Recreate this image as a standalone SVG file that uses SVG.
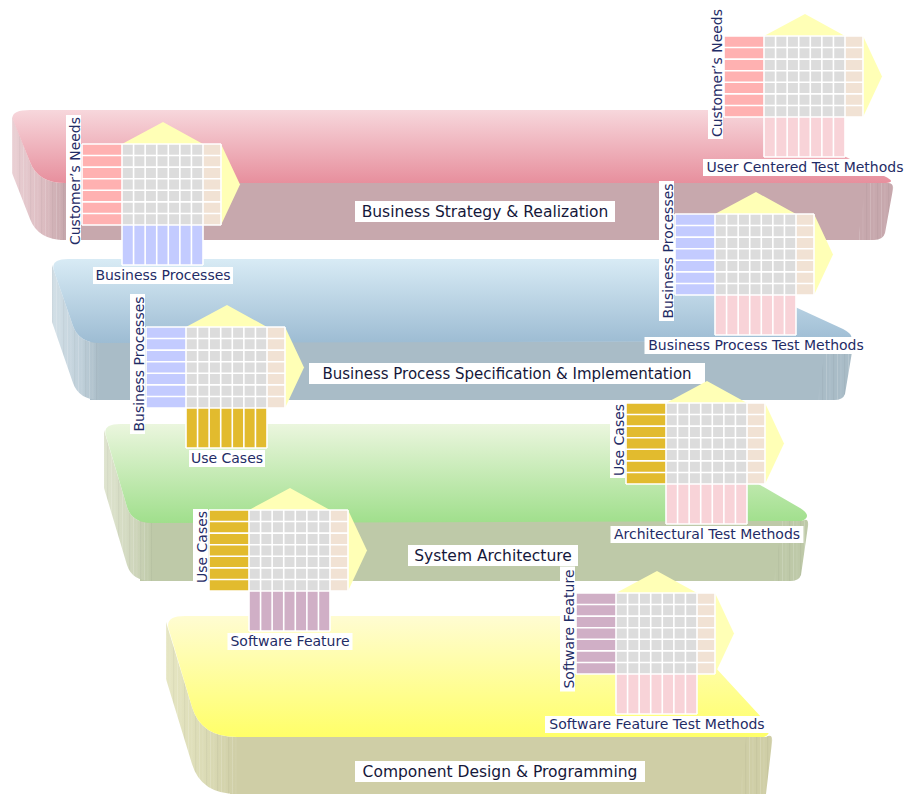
<svg xmlns="http://www.w3.org/2000/svg" xmlns:xlink="http://www.w3.org/1999/xlink" width="905" height="794" viewBox="0 0 905 794">
  <defs>
    <style>
      .roof{fill:#ffffb6}
      .grid{fill:#dcdcdc}
      .beige{fill:#f1e2d4}
      .lines{fill:none;stroke:#ffffff;stroke-width:1.6}
      .c-red{fill:#ffb1b1}
      .c-blue{fill:#c3cbff}
      .c-pink{fill:#f8d3d8}
      .c-gold{fill:#e2bb2e}
      .c-plum{fill:#d0afc6}
      .lbl-bg{fill:#ffffff}
      .lbl{font-family:"DejaVu Sans",Verdana,sans-serif;font-size:14px;fill:#1f2c66}
      .tier{font-family:"DejaVu Sans",Verdana,sans-serif;font-size:15.5px;fill:#15183a}
      .grain{fill:url(#grain)}
    </style>

    <!-- top faces: vertical gradients -->
    <linearGradient id="top-red" x1="0" y1="0" x2="0" y2="1">
      <stop offset="0" stop-color="#f7d7dc"/><stop offset="1" stop-color="#e78f9d"/>
    </linearGradient>
    <linearGradient id="top-blue" x1="0" y1="0" x2="0" y2="1">
      <stop offset="0" stop-color="#d8ebf5"/><stop offset="1" stop-color="#9dbcd3"/>
    </linearGradient>
    <linearGradient id="top-green" x1="0" y1="0" x2="0" y2="1">
      <stop offset="0" stop-color="#ebf6de"/><stop offset="1" stop-color="#a0df8c"/>
    </linearGradient>
    <linearGradient id="top-yellow" x1="0" y1="0" x2="0" y2="1">
      <stop offset="0" stop-color="#fffcd2"/><stop offset="1" stop-color="#ffff68"/>
    </linearGradient>

    <!-- side faces: horizontal gradients -->
    <linearGradient id="side-red" x1="0" y1="0" x2="1" y2="0">
      <stop offset="0" stop-color="#ead0d4"/><stop offset="0.6" stop-color="#dcbcc1"/><stop offset="1" stop-color="#c7a8ad"/>
    </linearGradient>
    <linearGradient id="side-blue" x1="0" y1="0" x2="1" y2="0">
      <stop offset="0" stop-color="#d3e0e7"/><stop offset="0.6" stop-color="#c0d0da"/><stop offset="1" stop-color="#a9bcc7"/>
    </linearGradient>
    <linearGradient id="side-green" x1="0" y1="0" x2="1" y2="0">
      <stop offset="0" stop-color="#dfe4cf"/><stop offset="0.6" stop-color="#d0d7bd"/><stop offset="1" stop-color="#bec9a8"/>
    </linearGradient>
    <linearGradient id="side-yellow" x1="0" y1="0" x2="1" y2="0">
      <stop offset="0" stop-color="#e6e6c3"/><stop offset="0.6" stop-color="#dadab4"/><stop offset="1" stop-color="#cfcea6"/>
    </linearGradient>

    <!-- fine vertical grain on the extruded sides -->
    <pattern id="grain" width="11" height="10" patternUnits="userSpaceOnUse">
      <rect x="1" y="0" width="1" height="10" fill="#ffffff" opacity="0.16"/>
      <rect x="4.5" y="0" width="0.8" height="10" fill="#ffffff" opacity="0.1"/>
      <rect x="8" y="0" width="1.2" height="10" fill="#000000" opacity="0.035"/>
    </pattern>

    <!-- matrix parts, placed relative to the top-left of the row block -->
    <g id="mx-core">
      <polygon class="roof" points="40,0 81,-22 121,0"/>
      <polygon class="roof" points="139,0 158,40.5 139,81"/>
      <rect class="grid" x="40" y="0" width="81" height="81"/>
      <rect class="beige" x="121" y="0" width="18" height="81"/>
    </g>
    <rect id="mx-rows" x="0" y="0" width="40" height="81"/>
    <rect id="mx-cols" x="40" y="81" width="81" height="40"/>
    <path id="mx-lines" class="lines" d="M0,0H139M0,11.57H139M0,23.14H139M0,34.71H139M0,46.29H139M0,57.86H139M0,69.43H139M0,81H139
      M0,0V81M139,0V81M40,0V121M51.57,0V121M63.14,0V121M74.71,0V121M86.29,0V121M97.86,0V121M109.43,0V121M121,0V121M40,121H121"/>

    <!-- extruded left sides of the tiers -->
    <path id="side1" d="M12,116 L30,162 Q38,183 65,183 L65,240 Q38,240 30,219 L12,173 Z"/>
    <path id="side2" d="M52,265 L73,326 Q79,343 100,343 L100,400 Q79,400 73,383 L52,322 Z"/>
    <path id="side3" d="M104,430 L127,507 Q132,523 152,523 L152,581 Q132,581 127,565 L104,488 Z"/>
    <path id="side4" d="M166,622 L192,707 Q201,737 237,737 L237,794 Q201,794 192,764 L166,679 Z"/>
  </defs>

  <!-- tier 1: business strategy -->
  <g id="tier-business-strategy">
    <path d="M60,183 L886,183 Q894,182 893,189 L885,233 Q883,240 874,240 L60,240 Z" fill="#c7a8ad"/>
    <path class="grain" d="M866,183 L886,183 Q894,182 893,189 L885,233 Q883,240 874,240 L858,240 Z"/>
    <use href="#side1" fill="url(#side-red)"/>
    <use href="#side1" class="grain"/>
    <path d="M30,110 L752,110 L884,176 Q897,182 886,183 L65,183 Q38,183 30,162 L13,120 Q10,110 30,110 Z" fill="url(#top-red)"/>
    <rect class="lbl-bg" x="355" y="201" width="260" height="21"/>
    <text class="tier" x="485" y="217" text-anchor="middle">Business Strategy &amp; Realization</text>
  </g>

  <!-- tier 2: business process -->
  <g id="tier-business-process">
    <path d="M90,342 L846,341 Q854,338 853,346 L845,394 Q843,400 834,400 L90,400 Z" fill="#a9bcc7"/>
    <path class="grain" d="M826,341 L846,341 Q854,338 853,346 L845,394 Q843,400 834,400 L818,400 Z"/>
    <use href="#side2" fill="url(#side-blue)"/>
    <use href="#side2" class="grain"/>
    <path d="M68,259 L691,259 L843,329 Q858,337 846,341 L100,343 Q79,343 73,326 L54,271 Q50,259 68,259 Z" fill="url(#top-blue)"/>
    <rect class="lbl-bg" x="309" y="363" width="396" height="21"/>
    <text class="tier" x="507" y="379" text-anchor="middle" style="font-size:15px">Business Process Specification &amp; Implementation</text>
  </g>

  <!-- tier 3: system architecture -->
  <g id="tier-system-architecture">
    <path d="M140,521 L802,521 Q809,517 808,526 L801,575 Q799,581 790,581 L140,581 Z" fill="#bec9a8"/>
    <path class="grain" d="M782,521 L802,521 Q809,517 808,526 L801,575 Q799,581 790,581 L774,581 Z"/>
    <use href="#side3" fill="url(#side-green)"/>
    <use href="#side3" class="grain"/>
    <path d="M120,424 L655,424 L800,508 Q813,516 802,521 L152,523 Q132,523 127,507 L106,436 Q102,424 120,424 Z" fill="url(#top-green)"/>
    <rect class="lbl-bg" x="408" y="545" width="170" height="21"/>
    <text class="tier" x="493" y="561" text-anchor="middle">System Architecture</text>
  </g>

  <!-- tier 4: component design -->
  <g id="tier-component-design">
    <path d="M230,737 L766,737 Q773,733 772,742 L766,794 L230,794 Z" fill="#cfcea6"/>
    <path class="grain" d="M746,737 L766,737 Q773,733 772,742 L766,794 L740,794 Z"/>
    <use href="#side4" fill="url(#side-yellow)"/>
    <use href="#side4" class="grain"/>
    <path d="M185,616 L668,616 L762,718 Q775,733 764,737 L237,737 Q201,737 192,707 L169,630 Q164,616 185,616 Z" fill="url(#top-yellow)"/>
    <rect class="lbl-bg" x="355" y="761" width="290" height="21"/>
    <text class="tier" x="500" y="777" text-anchor="middle">Component Design &amp; Programming</text>
  </g>

  <!-- no connectors are drawn between the matrices -->
  <g id="connectors"/>

  <!-- matrices -->
  <g id="node-needs-to-processes" transform="translate(82,144)">
    <use href="#mx-core"/>
    <use href="#mx-rows" class="c-red"/>
    <use href="#mx-cols" class="c-blue"/>
    <use href="#mx-lines"/>
    <rect class="lbl-bg" x="-16" y="-29" width="15" height="132"/>
    <text class="lbl" transform="translate(-2.5,37) rotate(-90)" text-anchor="middle">Customer’s Needs</text>
    <rect class="lbl-bg" x="11" y="123" width="140" height="17"/>
    <text class="lbl" x="81" y="136" text-anchor="middle">Business Processes</text>
  </g>

  <g id="node-needs-to-user-tests" transform="translate(724,36)">
    <use href="#mx-core"/>
    <use href="#mx-rows" class="c-red"/>
    <use href="#mx-cols" class="c-pink"/>
    <use href="#mx-lines"/>
    <rect class="lbl-bg" x="-16" y="-29" width="15" height="132"/>
    <text class="lbl" transform="translate(-2.5,37) rotate(-90)" text-anchor="middle">Customer’s Needs</text>
    <rect class="lbl-bg" x="-21" y="123" width="204" height="17"/>
    <text class="lbl" x="81" y="136" text-anchor="middle">User Centered Test Methods</text>
  </g>

  <g id="node-processes-to-process-tests" transform="translate(675,214)">
    <use href="#mx-core"/>
    <use href="#mx-rows" class="c-blue"/>
    <use href="#mx-cols" class="c-pink"/>
    <use href="#mx-lines"/>
    <rect class="lbl-bg" x="-16" y="-33" width="15" height="140"/>
    <text class="lbl" transform="translate(-2.5,37) rotate(-90)" text-anchor="middle">Business Processes</text>
    <rect class="lbl-bg" x="-30.5" y="123" width="223" height="17"/>
    <text class="lbl" x="81" y="136" text-anchor="middle">Business Process Test Methods</text>
  </g>

  <g id="node-processes-to-use-cases" transform="translate(146,327)">
    <use href="#mx-core"/>
    <use href="#mx-rows" class="c-blue"/>
    <use href="#mx-cols" class="c-gold"/>
    <use href="#mx-lines"/>
    <rect class="lbl-bg" x="-16" y="-33" width="15" height="140"/>
    <text class="lbl" transform="translate(-2.5,37) rotate(-90)" text-anchor="middle">Business Processes</text>
    <rect class="lbl-bg" x="43" y="123" width="76" height="17"/>
    <text class="lbl" x="81" y="136" text-anchor="middle">Use Cases</text>
  </g>

  <g id="node-use-cases-to-arch-tests" transform="translate(626,403)">
    <use href="#mx-core"/>
    <use href="#mx-rows" class="c-gold"/>
    <use href="#mx-cols" class="c-pink"/>
    <use href="#mx-lines"/>
    <rect class="lbl-bg" x="-16" y="-1" width="15" height="76"/>
    <text class="lbl" transform="translate(-2.5,37) rotate(-90)" text-anchor="middle">Use Cases</text>
    <rect class="lbl-bg" x="-15.5" y="123" width="193" height="17"/>
    <text class="lbl" x="81" y="136" text-anchor="middle">Architectural Test Methods</text>
  </g>

  <g id="node-use-cases-to-features" transform="translate(209,510)">
    <use href="#mx-core"/>
    <use href="#mx-rows" class="c-gold"/>
    <use href="#mx-cols" class="c-plum"/>
    <use href="#mx-lines"/>
    <rect class="lbl-bg" x="-16" y="-1" width="15" height="76"/>
    <text class="lbl" transform="translate(-2.5,37) rotate(-90)" text-anchor="middle">Use Cases</text>
    <rect class="lbl-bg" x="18.5" y="123" width="125" height="17"/>
    <text class="lbl" x="81" y="136" text-anchor="middle">Software Feature</text>
  </g>

  <g id="node-features-to-feature-tests" transform="translate(576,593)">
    <use href="#mx-core"/>
    <use href="#mx-rows" class="c-plum"/>
    <use href="#mx-cols" class="c-pink"/>
    <use href="#mx-lines"/>
    <rect class="lbl-bg" x="-16" y="-26.5" width="15" height="125"/>
    <text class="lbl" transform="translate(-2.5,36) rotate(-90)" text-anchor="middle">Software Feature</text>
    <rect class="lbl-bg" x="-31" y="123" width="224" height="17"/>
    <text class="lbl" x="81" y="136" text-anchor="middle">Software Feature Test Methods</text>
  </g>
</svg>
